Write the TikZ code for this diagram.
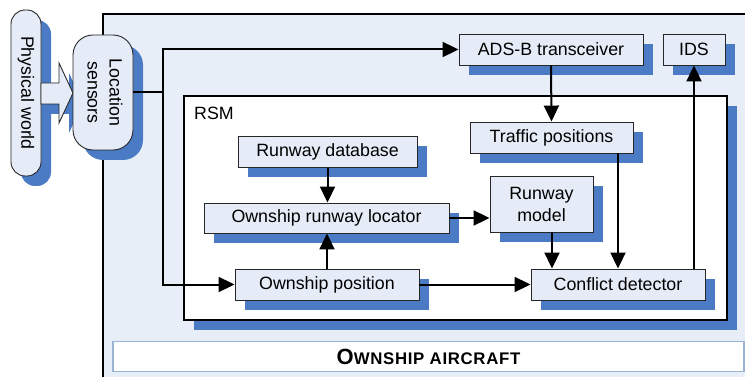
\documentclass[tikz,border=0pt]{standalone}
\usepackage{fontspec}
\setmainfont{Liberation Sans}
\usetikzlibrary{arrows.meta,shadows}

\definecolor{boxfill}{HTML}{E6ECF7}
\definecolor{shadowblue}{HTML}{4A7BC4}
\definecolor{planefill}{HTML}{E8EEF8}
\definecolor{labelrim}{HTML}{9AB3D3}

\begin{document}
\begin{tikzpicture}[x=1pt, y=-1pt,
    blueshadow/.style={drop shadow={shadow xshift=10pt, shadow yshift=-10pt, opacity=1, fill=shadowblue}},
    block/.style={draw=black!85, line width=0.9pt, fill=boxfill, inner sep=0pt,
        font=\fontsize{17.8}{22}\selectfont, align=center, blueshadow},
    wire/.style={line width=2pt, -{Triangle[length=16pt,width=15pt]}}]
    \clip (0,0) rectangle (745,377);

    % Ownship aircraft and RSM frames
    \draw[line width=2.2pt, fill=planefill] (103,14) rectangle (790,400);
    \node[draw, line width=1.8pt, fill=white, inner sep=0pt, minimum width=543, minimum height=224, blueshadow] (rsm) at (455.5,208) {};
    \node[anchor=north west, inner sep=0pt, font=\fontsize{17.8}{20}\selectfont] (rsmlbl) at (194,107) {RSM};

    % Outside world and sensors
    \node[block, rounded corners=14pt, minimum width=30, minimum height=166] (pw) at (26,93) {\rotatebox{-90}{Physical world}};
    \draw[draw=black!85, line width=0.9pt, fill=boxfill, blueshadow] (41,83) -- (59,83) -- (59,63) -- (73,93) -- (59,123) -- (59,104) -- (41,104) -- cycle;
    \node[block, rounded corners=20pt, minimum width=60, minimum height=115] (ls) at (103,92.5) {\rotatebox{-90}{\begin{tabular}{@{}c@{}}Location\\sensors\end{tabular}}};

    % Blocks
    \node[block, minimum width=184, minimum height=31] (adsb) at (551,49.5) {ADS-B transceiver};
    \node[block, minimum width=62, minimum height=31] (ids) at (694,49.5) {IDS};
    \node[block, minimum width=163, minimum height=31] (tpos) at (551.5,137.5) {Traffic positions};
    \node[block, minimum width=179, minimum height=31] (rdb) at (327.5,152) {Runway database};
    \node[block, minimum width=245, minimum height=30] (rloc) at (326.5,218) {Ownship runway locator};
    \node[block, minimum width=103, minimum height=56] (rmodel) at (541.5,204) {Runway\\model};
    \node[block, minimum width=184, minimum height=31] (opos) at (327,284.5) {Ownship position};
    \node[block, minimum width=174, minimum height=31] (cdet) at (618,284.5) {Conflict detector};

    \node[draw=labelrim, line width=1.2pt, fill=white, inner sep=0pt, minimum width=631, minimum height=30] (acft) at (428.5,356.5)
        {\bfseries\addfontfeature{LetterSpace=4}{\fontsize{22}{22}\selectfont O}{\fontsize{16.8}{16.8}\selectfont WNSHIP AIRCRAFT}};

    % Connectors
    \coordinate (split) at ([xshift=30pt]ls.east);
    \coordinate (mdrop) at ([xshift=-66pt]cdet.north);
    \draw[line width=2pt] (ls.east) -- (split);
    \draw[wire] (split) |- (adsb.west);
    \draw[wire] (split) |- (opos.west);
    \draw[wire] (adsb.south) -- (tpos.north);
    \draw[wire] (rdb.south) -- (rdb.south |- rloc.north);
    \draw[wire] (opos.north) -- (opos.north |- rloc.south);
    \draw[wire] (rloc.east) -- (rloc.east -| rmodel.west);
    \draw[wire] (mdrop |- rmodel.south) -- (mdrop);
    \draw[wire] (tpos.south -| cdet.north) -- (cdet.north);
    \draw[wire] (opos.east) -- (cdet.west);
    \draw[wire] (cdet.north -| ids.south) -- (ids.south);
\end{tikzpicture}
\end{document}
